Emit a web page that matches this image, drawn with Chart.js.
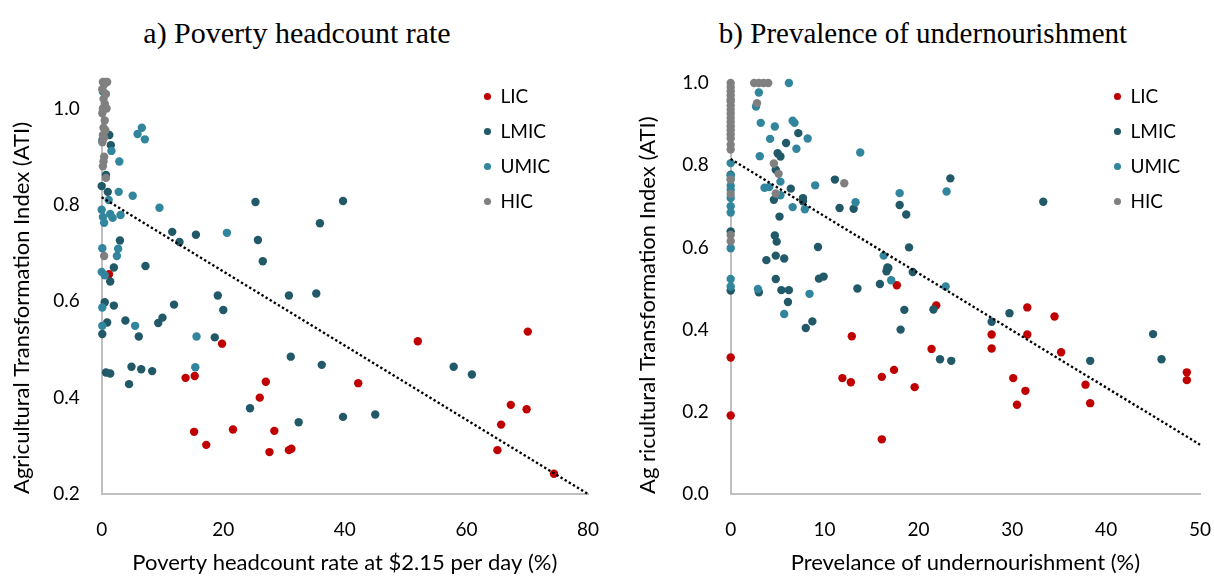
<!DOCTYPE html>
<html>
<head>
<meta charset="utf-8">
<script src="https://cdn.jsdelivr.net/npm/chart.js@4/dist/chart.umd.min.js"></script>
<style>
  body { margin: 0; background: #fff; }
  #wrap { position: relative; width: 1214px; height: 576px; overflow: hidden; }
  .pane { position: absolute; top: 0; width: 607px; height: 576px; }
  .ttl { position: absolute; top: 15px; width: 440px; font-family: "Liberation Serif", serif; font-size: 30px; line-height: 36px; color: #000; text-align: center; white-space: nowrap; }
</style>
</head>
<body>
<div id="wrap">
  <div class="ttl" style="left:77px;">a) Poverty headcount rate</div>
  <div class="ttl" style="left:703px;font-size:29px;">b) Prevalence of undernourishment</div>
  <div class="pane" style="left:0"><canvas id="povChart" width="607" height="576"></canvas></div>
  <div class="pane" style="left:607px"><canvas id="undChart" width="607" height="576"></canvas></div>
</div>
<script>
/* ── a) Poverty headcount rate ── */
const povLicX  = [1.2,19.8,42.2,13.8,15.3,27.0,26.0,15.2,21.6,28.4,17.2,27.6,30.8,31.2,52.0,70.1,67.3,69.9,65.7,65.1,74.4];
const povLicY  = [0.656,0.512,0.43,0.441,0.445,0.433,0.4,0.329,0.334,0.331,0.302,0.287,0.291,0.294,0.517,0.537,0.385,0.376,0.344,0.291,0.242];
const povLmicX = [1.25,1.5,0.7,0,1.0,25.3,39.7,35.9,11.6,12.8,15.5,25.7,26.5,3.0,2.0,7.2,1.4,0.5,2.0,0.9,0.1,3.9,6.1,9.3,10.0,11.9,19.1,20.0,18.6,30.8,35.3,31.1,36.2,0.7,1.4,4.9,6.5,8.3,4.5,24.4,39.7,32.4,57.9,60.9,45.0];
const povLmicY = [0.945,0.924,0.862,0.839,0.827,0.806,0.808,0.762,0.744,0.723,0.738,0.727,0.683,0.726,0.67,0.673,0.641,0.598,0.591,0.556,0.532,0.56,0.527,0.555,0.566,0.593,0.612,0.582,0.525,0.612,0.616,0.485,0.468,0.452,0.45,0.464,0.459,0.455,0.428,0.378,0.36,0.349,0.464,0.448,0.365];
const povUmicX = [0.2,5.9,6.6,7.1,0.1,1.6,2.9,2.8,5.1,1.15,9.5,0,0.2,0.4,1.4,1.8,3.1,20.6,2.7,2.5,0.1,0,0.5,0.1,0.1,5.5,15.6,15.4];
const povUmicY = [1.035,0.947,0.96,0.936,0.934,0.912,0.89,0.827,0.819,0.81,0.794,0.79,0.775,0.763,0.781,0.773,0.779,0.742,0.709,0.694,0.71,0.661,0.654,0.587,0.549,0.549,0.527,0.463];
const povHicX  = [0.2,0.6,0.9,0.4,0.1,0.7,0.3,0.5,0.2,0.8,0.1,0.5,0.3,0.6,0.2,0.4,0.1,0.4,0.3,0.2,0.7,0.4];
const povHicY  = [1.055,1.055,1.055,1.05,1.04,1.03,1.02,1.01,1.0,1.0,0.99,0.975,0.96,0.955,0.945,0.94,0.93,0.9,0.89,0.88,0.856,0.694];
const povTrendX = [0, 80];
const povTrendY = [0.816, 0.2];

/* ── b) Prevalence of undernourishment ── */
const undLicX  = [0,0,17.7,12.9,11.9,12.8,16.1,17.4,19.6,16.1,21.9,21.4,27.8,27.8,31.6,31.6,34.5,35.2,30.1,31.4,30.5,37.8,38.3,48.6,48.6];
const undLicY  = [0.332,0.191,0.508,0.384,0.282,0.272,0.285,0.302,0.26,0.133,0.459,0.353,0.388,0.354,0.454,0.388,0.432,0.345,0.282,0.251,0.217,0.266,0.221,0.296,0.277];
const undLmicX = [0,0,0,7.2,5.9,5.0,5.3,4.8,11.1,6.4,4.6,7.7,7.7,11.6,13.1,5.2,4.7,4.9,9.3,3.8,4.8,5.7,16.7,3.0,4.8,5.4,6.2,6.1,9.4,9.9,8.0,8.7,13.5,15.9,16.6,16.8,19.4,18.5,18.1,23.4,33.3,18.0,18.7,19.0,21.6,22.3,23.5,27.8,29.7,38.3,45.0,45.9];
const undLmicY = [0.777,0.639,0.495,0.878,0.854,0.829,0.821,0.789,0.765,0.743,0.716,0.72,0.712,0.696,0.694,0.675,0.629,0.614,0.601,0.569,0.58,0.573,0.551,0.491,0.523,0.496,0.496,0.467,0.524,0.529,0.404,0.42,0.5,0.511,0.542,0.55,0.54,0.448,0.4,0.768,0.711,0.703,0.68,0.6,0.449,0.328,0.324,0.419,0.44,0.324,0.389,0.328];
const undUmicX = [0,0,0,0,0,0,0,0,0,0,0,6.2,3.0,2.7,3.2,4.7,6.6,6.8,8.2,4.2,7.0,13.8,3.1,5.3,9.0,3.6,4.1,5.3,7.9,6.6,13.3,16.3,2.9,5.7,8.4,17.1,18.0,23.0,22.9];
const undUmicY = [0.805,0.775,0.765,0.75,0.74,0.72,0.7,0.685,0.598,0.523,0.505,1.0,0.977,0.943,0.903,0.894,0.908,0.903,0.865,0.864,0.84,0.831,0.822,0.76,0.751,0.745,0.747,0.727,0.693,0.698,0.71,0.58,0.499,0.438,0.487,0.52,0.732,0.736,0.505];
const undHicX  = [0,0,0,0,0,0,0,0,0,0,0,0,0,0,0,0,0,0,0,0,0,2.5,3.0,3.5,4.0,2.8,4.6,5.1,4.8,12.1];
const undHicY  = [1.0,0.99,0.98,0.97,0.96,0.955,0.945,0.935,0.925,0.915,0.905,0.895,0.885,0.875,0.865,0.85,0.838,0.765,0.73,0.63,0.615,1.0,1.0,1.0,1.0,0.951,0.804,0.779,0.731,0.756];
const undTrendX = [0, 50];
const undTrendY = [0.815, 0.12];

const groups = ['LIC', 'LMIC', 'UMIC', 'HIC'];
const colors = ['#C00000', '#215968', '#31859C', '#808080'];

const FONT = 'Lato, "Open Sans", sans-serif';

// склеява x и y масивите в точки
function pts(xs, ys) {
  return xs.map((x, i) => ({ x, y: ys[i] }));
}

// мести легендата в зададена точка от платното
const legendSpot = {
  id: 'legendSpot',
  afterLayout(chart, args, opts) {
    const lg = chart.legend;
    if (!lg) return;
    const w = lg.width, h = lg.height;
    lg.left = opts.x; lg.top = opts.y;
    lg.right = opts.x + w; lg.bottom = opts.y + h;
  }
};

function makePanel(id, p) {
  const datasets = p.series.map((s, i) => ({
    label: groups[i],
    data: pts(s[0], s[1]),
    backgroundColor: colors[i],
    borderColor: colors[i],
    borderWidth: 0,
    pointRadius: 4.2,
    pointHoverRadius: 4.2,
    clip: false,
    order: 4 - i
  }));
  datasets.push({
    type: 'line',
    label: 'trend',
    data: pts(p.trend[0], p.trend[1]),
    borderColor: '#000',
    borderWidth: 2.4,
    borderDash: [2.4, 2.4],
    pointRadius: 0,
    fill: false,
    clip: false,
    order: 0
  });

  const tickFont = { family: FONT, size: 19 };
  const titleFont = { family: FONT, size: 22 };

  return new Chart(document.getElementById(id), {
    type: 'scatter',
    data: { datasets },
    options: {
      responsive: false,
      animation: false,
      layout: { padding: { left: 0, top: p.top, right: p.right, bottom: 0 } },
      plugins: {
        title: { display: false },
        tooltip: { enabled: false },
        legend: {
          position: 'chartArea',
          align: 'start',
          labels: {
            filter: it => it.text !== 'trend',
            sort: (a, b) => a.datasetIndex - b.datasetIndex,
            usePointStyle: true,
            pointStyle: 'circle',
            boxWidth: 7,
            boxHeight: 5,
            padding: 16,
            color: '#000',
            font: { family: FONT, size: 19 }
          }
        },
        legendSpot: p.legend
      },
      scales: {
        x: {
          type: 'linear',
          min: 0, max: p.xMax,
          grid: { display: false, drawTicks: false },
          border: { display: true, color: '#BFBFBF', width: 2 },
          ticks: { stepSize: p.xStep, color: '#000', font: tickFont, padding: 24, maxRotation: 0 },
          title: { display: true, text: p.xTitle, color: '#000', font: titleFont, padding: { top: 0, bottom: 0 } },
          afterFit: s => { s.height = 82; s.paddingLeft = 0; s.paddingRight = 0; }
        },
        y: {
          type: 'linear',
          min: p.yMin, max: p.yMax,
          grid: { display: false, drawTicks: false },
          border: { display: true, color: '#BFBFBF', width: 2 },
          ticks: { stepSize: 0.2, includeBounds: false, color: '#000', font: tickFont, padding: 22,
                   callback: v => v.toFixed(1) },
          title: { display: true, align: 'start', text: p.yTitle, color: '#000', font: titleFont, padding: { top: p.yTitlePad, bottom: 0 } },
          afterFit: s => { s.width = p.left; }
        }
      }
    },
    plugins: [legendSpot]
  });
}

makePanel('povChart', {
  series: [[povLicX, povLicY], [povLmicX, povLmicY], [povUmicX, povUmicY], [povHicX, povHicY]],
  trend: [povTrendX, povTrendY],
  xMax: 80, xStep: 20, yMin: 0.2, yMax: 1.055,
  left: 101.7, right: 19, top: 82,
  xTitle: 'Poverty headcount rate at $2.15 per day (%)',
  yTitle: 'Agricultural Transformation Index (ATI)',
  yTitlePad: 8.8,
  legend: { x: 468, y: 71 }
});

makePanel('undChart', {
  series: [[undLicX, undLicY], [undLmicX, undLmicY], [undUmicX, undUmicY], [undHicX, undHicY]],
  trend: [undTrendX, undTrendY],
  xMax: 50, xStep: 10, yMin: 0, yMax: 1.0,
  left: 123.7, right: 14, top: 83,
  xTitle: 'Prevelance of undernourishment (%)',
  yTitle: 'Ag ricultural Transformation Index (ATI)',
  yTitlePad: 27.8,
  legend: { x: 491, y: 71 }
});
</script>
</body>
</html>
